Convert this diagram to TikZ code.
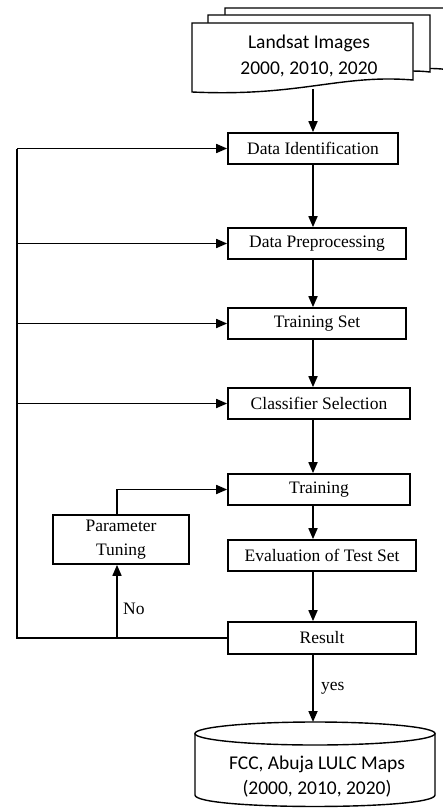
\documentclass[tikz,border=0pt]{standalone}
\usepackage{fontspec}
\setmainfont{Liberation Serif}
\newfontfamily\calfont{Carlito}
\usetikzlibrary{arrows.meta}
\def\spinex{313}
\def\loopx{17}
\begin{document}
\begin{tikzpicture}[x=1pt, y=-1pt, line width=1.7pt,
    flowbox/.style={draw, rectangle, inner sep=0pt, minimum height=31pt, font=\fontsize{17.5}{19}\selectfont},
    arr/.style={-{Triangle[length=11pt,width=9pt]}},
    sheet/.style={draw, fill=white, line width=1.4pt}]
		\clip (0,0) rectangle (443,808);
		\draw[sheet] (225,8) -- (450,8) -- (450,70) .. controls (400,62) and (330,88) .. (225,82) -- cycle;
		\draw[sheet] (208,15) -- (430,15) -- (430,72) .. controls (380,66) and (320,90) .. (208,84) -- cycle;
		\draw[sheet] (192,23) -- (413,23) -- (413,80) .. controls (340,74) and (300,97) .. (192,92) -- cycle;
		\node[font=\calfont\fontsize{19.5}{26}\selectfont, align=center] (landsat) at (309,56) {Landsat Images\\2000, 2010, 2020};
		\coordinate (docbot) at (\spinex,89);
		\node[flowbox, minimum width=170pt] (ident) at (313,148.5) {Data Identification};
		\node[flowbox, minimum width=178pt] (prep) at (317,243.5) {Data Preprocessing};
		\node[flowbox, minimum width=178pt] (trainset) at (317,323.5) {Training Set};
		\node[flowbox, minimum width=182pt] (clsel) at (319,403.5) {Classifier Selection};
		\node[flowbox, minimum width=182pt] (train) at (319,489.5) {Training};
		\node[flowbox, minimum width=136pt, minimum height=49pt, align=center, font=\fontsize{17.5}{24}\selectfont] (tuning) at (121,539.5) {Parameter\\Tuning};
		\node[flowbox, minimum width=188pt] (eval) at (322,555.5) {Evaluation of Test Set};
		\node[flowbox, minimum width=188pt, minimum height=32pt] (result) at (322,638) {Result};
		\draw[sheet] (195,733.5) -- (195,795) .. controls (195,810.3) and (435,810.3) .. (435,795) -- (435,733.5);
		\draw[sheet] (315,733.5) ellipse [x radius=120, y radius=11.5];
		\node[font=\calfont\fontsize{19.5}{25}\selectfont, align=center] (maps) at (317,777) {FCC, Abuja LULC Maps\\(2000, 2010, 2020)};
		\coordinate (cyltop) at (\spinex,722);
		\coordinate (loopbl) at (\loopx,638);
		\draw[arr] (docbot) -- (docbot |- ident.north);
		\draw[arr] (ident.south -| docbot) -- (docbot |- prep.north);
		\draw[arr] (prep.south -| docbot) -- (docbot |- trainset.north);
		\draw[arr] (trainset.south -| docbot) -- (docbot |- clsel.north);
		\draw[arr] (clsel.south -| docbot) -- (docbot |- train.north);
		\draw[arr] (train.south -| docbot) -- (docbot |- eval.north);
		\draw[arr] (eval.south -| docbot) -- (docbot |- result.north);
		\draw[arr] (result.south -| docbot) -- node[right=4pt, font=\fontsize{17.5}{19}\selectfont] {yes} (cyltop);
		\draw (result.west) -- (loopbl) -- (loopbl |- ident.west);
		\draw[arr] (loopbl |- ident.west) -- (ident.west);
		\draw[arr] (loopbl |- prep.west) -- (prep.west);
		\draw[arr] (loopbl |- trainset.west) -- (trainset.west);
		\draw[arr] (loopbl |- clsel.west) -- (clsel.west);
		\draw[arr] ([xshift=-4pt]tuning.south |- result.west) -- node[pos=0.4, right=2pt, font=\fontsize{17.5}{19}\selectfont] {No} ([xshift=-4pt]tuning.south);
		\draw[arr] ([xshift=-4pt]tuning.north) |- (train.west);
\end{tikzpicture}
\end{document}
